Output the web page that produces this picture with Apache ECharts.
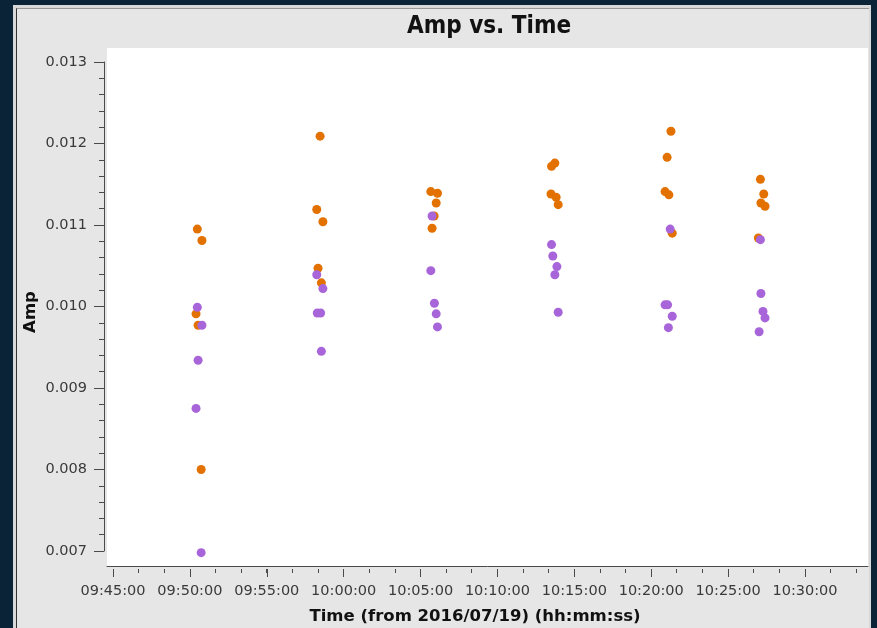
<!DOCTYPE html>
<html>
<head>
<meta charset="utf-8">
<script src="https://cdn.jsdelivr.net/npm/echarts@6/dist/echarts.min.js"></script>
<style>
  html, body { margin: 0; padding: 0; background: #0b2337; }
  #frame { position: absolute; left: 13px; top: 5px; width: 858px; height: 623px; background: #d8d8d8; }
  #panel { position: absolute; left: 16px; top: 8px; width: 853px; height: 620px; background: #e6e6e6; border-left: 1px solid #333; border-top: 1px solid #999; box-sizing: border-box; }
  #chart { position: absolute; left: 0; top: 0; width: 877px; height: 628px; }
</style>
</head>
<body>
<div id="frame"></div>
<div id="panel"></div>
<div id="chart"></div>
<script>
  // Amp values, time stamps on 2016/07/19
  var orangeTimes = [
    '09:50:29', '09:50:47', '09:50:24', '09:50:32', '09:50:44',
    '09:58:28', '09:58:15', '09:58:39', '09:58:20', '09:58:33',
    '10:05:40', '10:06:06', '10:06:01', '10:05:53', '10:05:45',
    '10:13:31', '10:13:44', '10:13:29', '10:13:49', '10:13:57',
    '10:21:17', '10:21:02', '10:20:54', '10:21:09', '10:21:22',
    '10:27:06', '10:27:19', '10:27:08', '10:27:24', '10:26:58'
  ];
  var orangeAmps = [
    0.01095, 0.01081, 0.00991, 0.00977, 0.00800,
    0.01209, 0.01119, 0.01104, 0.01047, 0.01029,
    0.01141, 0.01139, 0.01127, 0.01111, 0.01096,
    0.01172, 0.01176, 0.01138, 0.01134, 0.01125,
    0.01215, 0.01183, 0.01141, 0.01137, 0.01090,
    0.01156, 0.01138, 0.01127, 0.01123, 0.01084
  ];
  var purpleTimes = [
    '09:50:29', '09:50:47', '09:50:32', '09:50:24', '09:50:44',
    '09:58:15', '09:58:39', '09:58:17', '09:58:30', '09:58:33',
    '10:05:45', '10:05:40', '10:05:54', '10:06:01', '10:06:06',
    '10:13:31', '10:13:36', '10:13:52', '10:13:44', '10:13:57',
    '10:21:14', '10:20:54', '10:21:04', '10:21:22', '10:21:07',
    '10:27:06', '10:27:08', '10:27:16', '10:27:24', '10:27:01'
  ];
  var purpleAmps = [
    0.00999, 0.00977, 0.00934, 0.00875, 0.00698,
    0.01039, 0.01022, 0.00992, 0.00992, 0.00945,
    0.01111, 0.01044, 0.01004, 0.00991, 0.00975,
    0.01076, 0.01062, 0.01049, 0.01039, 0.00993,
    0.01095, 0.01002, 0.01002, 0.00988, 0.00974,
    0.01082, 0.01016, 0.00994, 0.00986, 0.00969
  ];
  var timeStart = '09:45:00';
  var timeEnd = '10:30:00';
  var minorEnd = '10:33:20';
  var ampMin = 0.007;
  var ampMax = 0.013;

  function toSec(s) {
    var p = s.split(':');
    return (+p[0]) * 3600 + (+p[1]) * 60 + (+p[2]);
  }
  function pad(n) { return (n < 10 ? '0' : '') + n; }
  function fmtTime(v) {
    return pad(Math.floor(v / 3600)) + ':' + pad(Math.floor(v % 3600 / 60)) + ':' + pad(v % 60);
  }
  function pairs(ts, vs) {
    return ts.map(function (t, i) { return [toSec(t), vs[i]]; });
  }

  var axisColor = '#4a4a4a';
  var labelFont = { color: '#3a3a3a', fontFamily: 'DejaVu Sans', fontSize: 14.5 };

  var chart = echarts.init(document.getElementById('chart'));
  var option = {
    backgroundColor: 'transparent',
    animation: false,
    grid: [
      // white plot area
      { left: 107, right: 9, top: 48, bottom: 62, show: true, backgroundColor: '#ffffff', borderWidth: 0 },
      // data grid, 09:45 .. 10:30
      { left: 113, right: 72, top: 62, bottom: 77 },
      // minor tick grid, 09:45 .. 10:33:20
      { left: 113, right: 21, top: 62, bottom: 77 }
    ],
    xAxis: [
      {
        gridIndex: 0, type: 'value', min: 0, max: 1, offset: 3,
        axisLine: { show: true, lineStyle: { color: axisColor, width: 1 } },
        axisTick: { show: false }, axisLabel: { show: false }, splitLine: { show: false }
      },
      {
        gridIndex: 1, type: 'value', min: toSec(timeStart), max: toSec(timeEnd), interval: 300, offset: 18,
        axisLine: { show: false },
        axisTick: { show: true, length: 8, lineStyle: { color: axisColor } },
        axisLabel: Object.assign({ margin: 15, formatter: fmtTime }, labelFont),
        splitLine: { show: false }
      },
      {
        gridIndex: 2, type: 'value', min: toSec(timeStart), max: toSec(minorEnd), interval: 100, offset: 18,
        axisLine: { show: false },
        axisTick: { show: true, length: 4, lineStyle: { color: axisColor } },
        axisLabel: { show: false }, splitLine: { show: false }
      }
    ],
    yAxis: [
      { gridIndex: 0, type: 'value', show: false },
      {
        gridIndex: 1, type: 'value', min: ampMin, max: ampMax, interval: 0.001, offset: 9,
        axisLine: { show: true, lineStyle: { color: axisColor, width: 1 } },
        axisTick: { show: true, length: 10, lineStyle: { color: axisColor } },
        minorTick: { show: true, splitNumber: 5, length: 5, lineStyle: { color: axisColor } },
        axisLabel: Object.assign({ margin: 17, formatter: function (v) { return v.toFixed(3); } }, labelFont),
        splitLine: { show: false }
      },
      { gridIndex: 2, type: 'value', show: false, min: ampMin, max: ampMax }
    ],
    graphic: [
      {
        type: 'text', x: 489, y: 27,
        style: { text: 'Amp vs. Time', font: 'bold 24px "DejaVu Sans Condensed", "DejaVu Sans"', fill: '#111', align: 'center', verticalAlign: 'middle' }
      },
      {
        type: 'text', x: 31, y: 312, rotation: Math.PI / 2,
        style: { text: 'Amp', font: 'bold 16.5px "DejaVu Sans"', fill: '#111', align: 'center', verticalAlign: 'middle' }
      },
      {
        type: 'text', x: 475, y: 617,
        style: { text: 'Time (from 2016/07/19) (hh:mm:ss)', font: 'bold 16.5px "DejaVu Sans"', fill: '#111', align: 'center', verticalAlign: 'middle' }
      }
    ],
    series: [
      {
        type: 'scatter', xAxisIndex: 1, yAxisIndex: 1, symbolSize: 9, clip: false,
        itemStyle: { color: '#e27100', opacity: 1 },
        data: pairs(orangeTimes, orangeAmps)
      },
      {
        type: 'scatter', xAxisIndex: 1, yAxisIndex: 1, symbolSize: 9, clip: false,
        itemStyle: { color: '#a765d9', opacity: 1 },
        data: pairs(purpleTimes, purpleAmps)
      }
    ]
  };
  chart.setOption(option);
</script>
</body>
</html>
